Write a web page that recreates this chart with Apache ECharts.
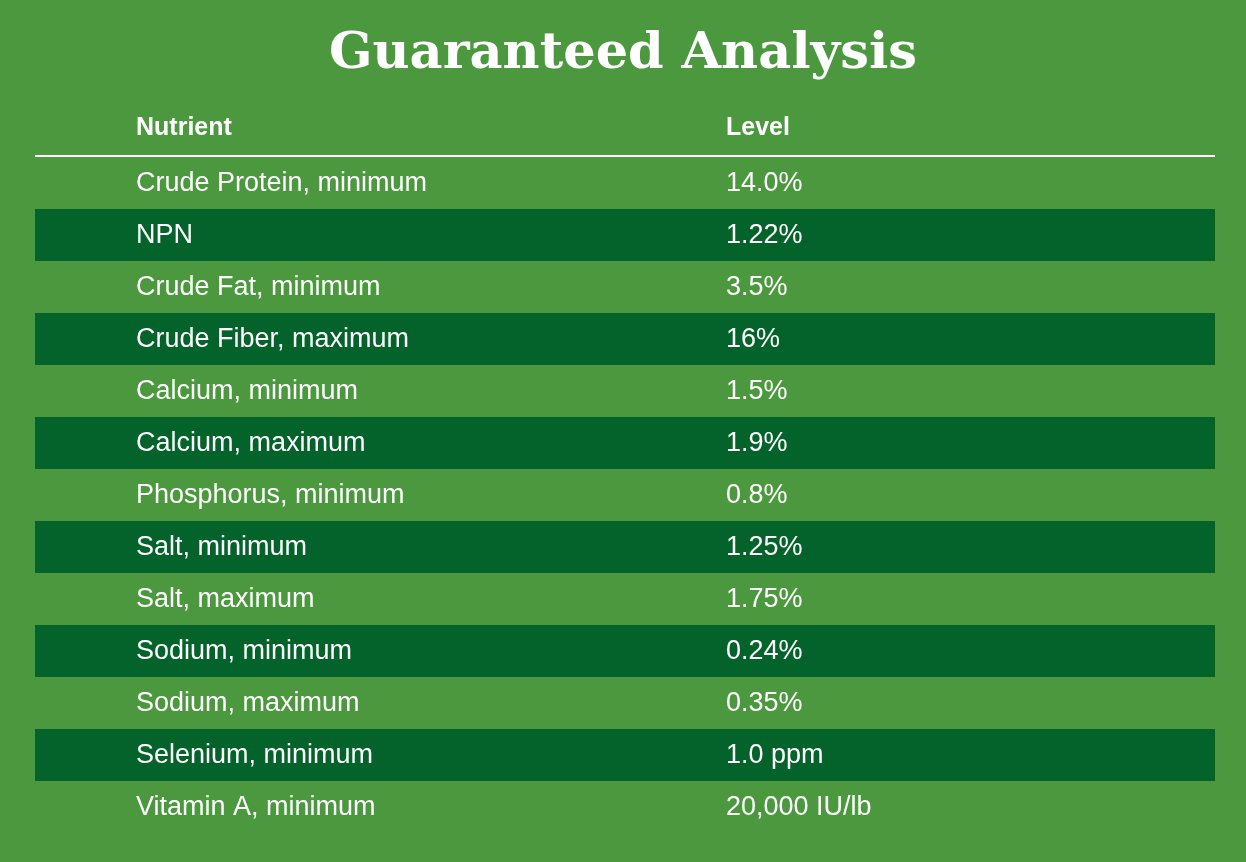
<!DOCTYPE html>
<html>
<head>
<meta charset="utf-8">
<style>html,body{margin:0;padding:0;background:#4b983f;}#main{width:1246px;height:862px;}</style>
<script src="https://cdn.jsdelivr.net/npm/echarts@6/dist/echarts.min.js"></script>
</head>
<body>
<div id="main"></div>
<script>
var nutrients = ['Crude Protein, minimum', 'NPN', 'Crude Fat, minimum', 'Crude Fiber, maximum',
	'Calcium, minimum', 'Calcium, maximum', 'Phosphorus, minimum', 'Salt, minimum', 'Salt, maximum',
	'Sodium, minimum', 'Sodium, maximum', 'Selenium, minimum', 'Vitamin A, minimum'];
var levels = ['14.0%', '1.22%', '3.5%', '16%', '1.5%', '1.9%', '0.8%', '1.25%', '1.75%',
	'0.24%', '0.35%', '1.0 ppm', '20,000 IU/lb'];
var headers = ['Nutrient', 'Level'];

var myChart = echarts.init(document.getElementById('main'));
var font = '"Liberation Sans", Arial, sans-serif';
var option = {
	backgroundColor: '#4b983f',
	title: {
		text: 'Guaranteed Analysis',
		left: 'center',
		top: 24,
		textStyle: { color: '#fff', fontSize: 51, fontWeight: 'bold', fontFamily: '"DejaVu Serif", serif' }
	},
	grid: { left: 35, right: 31, top: 157, height: 676 },
	xAxis: { type: 'value', min: 0, max: 1180, show: false },
	yAxis: { type: 'category', data: nutrients, inverse: true, show: false },
	graphic: [
		{ type: 'text', left: 136, top: 116, style: { text: headers[0], fill: '#fff', font: 'bold 25px ' + font } },
		{ type: 'text', left: 726, top: 116, style: { text: headers[1], fill: '#fff', font: 'bold 25px ' + font } },
		{ type: 'rect', shape: { x: 35, y: 155, width: 1180, height: 2 }, style: { fill: '#fff' } }
	],
	series: [{
		type: 'custom',
		data: nutrients.map(function(n, i) { return [i]; }),
		renderItem: function(params, api) {
			var i = api.value(0);
			var p = api.coord([0, i]);
			var h = api.size([0, 1])[1];
			var kids = [];
			if (i % 2 === 1) {
				kids.push({ type: 'rect', shape: { x: p[0], y: p[1] - h / 2, width: 1180, height: h }, style: { fill: '#03632a' } });
			}
			kids.push({ type: 'text', x: api.coord([101, i])[0], y: p[1] + 1, style: { text: nutrients[i], fill: '#fff', font: '27px ' + font, verticalAlign: 'middle' } });
			kids.push({ type: 'text', x: api.coord([691, i])[0], y: p[1] + 1, style: { text: levels[i], fill: '#fff', font: '27px ' + font, verticalAlign: 'middle' } });
			return { type: 'group', children: kids };
		}
	}]
};
myChart.setOption(option);
</script>
</body>
</html>
